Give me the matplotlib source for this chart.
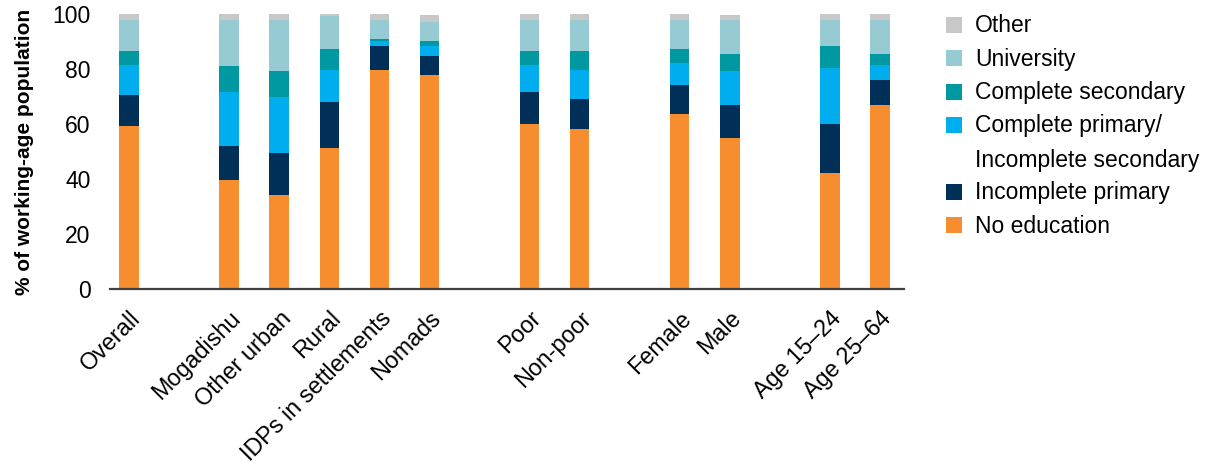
import matplotlib
matplotlib.use("Agg")
import matplotlib.pyplot as plt
from matplotlib.patches import Rectangle
import numpy as np

plt.rcParams['font.family'] = ['Liberation Sans', 'DejaVu Sans']

# data (% of working-age population)
groups = ['Overall', 'Mogadishu', 'Other urban', 'Rural', 'IDPs in settlements', 'Nomads',
          'Poor', 'Non-poor', 'Female', 'Male', 'Age 15–24', 'Age 25–64']
slots = [0, 2, 3, 4, 5, 6, 8, 9, 11, 12, 14, 15]

no_education = [59.2, 39.6, 34.3, 51.3, 79.6, 77.8, 60.0, 58.2, 63.6, 54.8, 42.3, 67.1]
incomplete_primary = [11.5, 12.5, 15.1, 16.7, 8.9, 7.0, 11.6, 10.8, 10.6, 12.2, 17.7, 8.9]
complete_primary = [10.7, 19.5, 20.5, 11.7, 1.8, 3.6, 9.8, 10.6, 8.0, 12.5, 20.4, 5.5]
complete_secondary = [5.2, 9.6, 9.6, 7.8, 0.8, 1.7, 5.2, 7.0, 5.2, 5.9, 7.9, 4.1]
university = [11.4, 16.9, 18.6, 11.8, 6.9, 7.1, 11.4, 11.4, 10.7, 12.5, 9.7, 12.5]
other = [2.0, 2.0, 2.0, 0.9, 2.0, 2.7, 2.0, 2.0, 2.0, 2.0, 2.0, 2.0]

series = [no_education, incomplete_primary, complete_primary,
          complete_secondary, university, other]
names = ['No education', 'Incomplete primary',
         'Complete primary/\nIncomplete secondary', 'Complete secondary',
         'University', 'Other']
colors = ['#F68D2E', '#003057', '#00AEEF', '#0098A1', '#96CBD4', '#C8C8C8']

W, H = 1211, 468
fig = plt.figure(figsize=(W / 100, H / 100), dpi=100)
ax = fig.add_axes([110 / W, 1 - 288.7 / H, (904 - 110) / W, (288.7 - 14.3) / H])

bottom = np.zeros(len(groups))
for vals, c in zip(series, colors):
    vals = np.array(vals)
    ax.bar(slots, vals, width=0.39, bottom=bottom, color=c, linewidth=0)
    bottom += vals

ax.set_xlim(-0.38, 15.48)
ax.set_ylim(0, 100)
ax.set_yticks([0, 20, 40, 60, 80, 100])
ax.tick_params(axis='y', length=0, pad=14, labelsize=16.5)
ax.set_ylabel('% of working-age population', fontsize=15, fontweight='bold', labelpad=13)

ax.set_xticks(slots)
ax.set_xticklabels(groups, rotation=45, ha='right', va='top',
                   rotation_mode='anchor', fontsize=16.8)
ax.tick_params(axis='x', length=0, pad=13)

for s in ['top', 'right', 'left']:
    ax.spines[s].set_visible(False)
ax.spines['bottom'].set_color('#404040')
ax.spines['bottom'].set_linewidth(1.6)

# legend drawn by hand so the square sits on the first line of a two-line label
rows = [225, 191.7, 125, 91.7, 58.3, 25]
for name, c, yc in zip(names, colors, rows):
    fig.patches.append(Rectangle((946 / W, 1 - (yc + 8) / H), 16 / W, 16 / H,
                                 transform=fig.transFigure, color=c, lw=0))
    for k, line in enumerate(name.split('\n')):
        fig.text(975 / W, 1 - (yc + 1 + k * 34) / H, line, fontsize=16.5, va='center', ha='left')

fig.savefig('out.png', dpi=100)
